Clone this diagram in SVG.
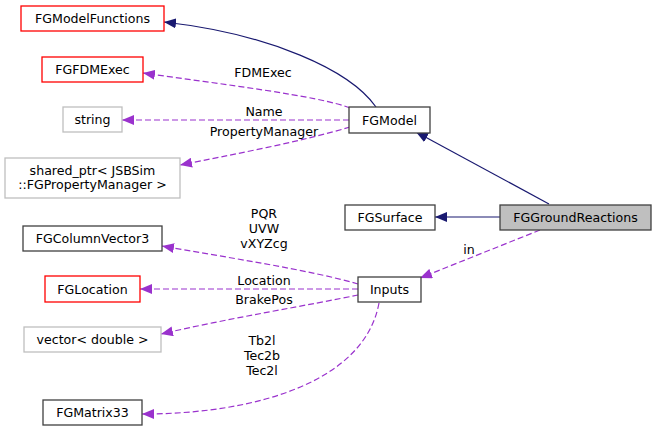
<svg xmlns="http://www.w3.org/2000/svg" width="656" height="431" viewBox="0 0 656 431">
<defs>
<style>
text{font-family:"DejaVu Sans",sans-serif;font-size:12.6px;fill:#000;text-anchor:middle}
.b{fill:#fff;stroke:#404040;stroke-width:1.3}
.r{fill:#fff;stroke:#ff0000;stroke-width:1.3}
.g{fill:#fff;stroke:#bfbfbf;stroke-width:1.3}
.cur{fill:#bfbfbf;stroke:#404040;stroke-width:1.3}
.inh{fill:none;stroke:#191970;stroke-width:1.2;marker-end:url(#an)}
.use{fill:none;stroke:#9a32cd;stroke-width:1.2;stroke-dasharray:6,3;marker-end:url(#ap)}
</style>
<marker id="an" markerUnits="userSpaceOnUse" markerWidth="12" markerHeight="10" refX="12" refY="5" orient="auto"><path d="M0,0 L12,5 L0,10 z" fill="#191970"/></marker>
<marker id="ap" markerUnits="userSpaceOnUse" markerWidth="12" markerHeight="10" refX="12" refY="5" orient="auto"><path d="M0,0 L12,5 L0,10 z" fill="#9a32cd"/></marker>
</defs>
<g id="connectors">
<path class="inh" d="M376,107 C350,70 270,34 164,22"/>
<path class="use" d="M350,108 C320,96 220,84 143,73"/>
<path class="use" d="M349,120 L122,120"/>
<path class="use" d="M350,127 C300,142 230,155 180,165"/>
<path class="inh" d="M549,204 L416,132"/>
<path class="inh" d="M500,217 L435,217"/>
<path class="use" d="M540,230 L420,278"/>
<path class="use" d="M358,284 C310,270 230,258 162,246"/>
<path class="use" d="M358,289 L140,289"/>
<path class="use" d="M358,295 C310,305 230,318 161,334"/>
<path class="use" d="M379,303 C365,380 260,414 142,414"/>
<text x="263" y="77">FDMExec</text>
<text x="264" y="116">Name</text>
<text x="264" y="136">PropertyManager</text>
<text x="469" y="254">in</text>
<text x="264" y="218">PQR</text>
<text x="264" y="233">UVW</text>
<text x="264" y="248">vXYZcg</text>
<text x="264" y="285">Location</text>
<text x="264" y="304">BrakePos</text>
<text x="262" y="345">Tb2l</text>
<text x="262" y="360">Tec2b</text>
<text x="262" y="375">Tec2l</text>
</g>
<g id="FGModelFunctions"><rect class="r" x="21" y="6" width="143" height="25"/><text x="92.5" y="23">FGModelFunctions</text></g>
<g id="FGFDMExec"><rect class="r" x="42" y="57" width="101" height="25"/><text x="92.5" y="74">FGFDMExec</text></g>
<g id="string"><rect class="g" x="63" y="107" width="59" height="25"/><text x="92.5" y="124">string</text></g>
<g id="shared_ptr"><rect class="g" x="5" y="158" width="175" height="40"/><text x="92.5" y="175">shared_ptr&lt; JSBSim</text><text x="92.5" y="189">::FGPropertyManager &gt;</text></g>
<g id="FGModel"><rect class="b" x="349" y="107" width="81" height="26"/><text x="389.5" y="124.5">FGModel</text></g>
<g id="FGSurface"><rect class="b" x="345" y="205" width="90" height="25"/><text x="390" y="222">FGSurface</text></g>
<g id="FGGroundReactions"><rect class="cur" x="500" y="205" width="151" height="25"/><text x="575.5" y="222">FGGroundReactions</text></g>
<g id="Inputs"><rect class="b" x="358" y="277" width="63" height="25"/><text x="389.5" y="294">Inputs</text></g>
<g id="FGColumnVector3"><rect class="b" x="23" y="226" width="139" height="25"/><text x="92.5" y="243">FGColumnVector3</text></g>
<g id="FGLocation"><rect class="r" x="45" y="276" width="95" height="26"/><text x="92.5" y="293.5">FGLocation</text></g>
<g id="vector_double"><rect class="g" x="24" y="327" width="137" height="25"/><text x="92.5" y="344">vector&lt; double &gt;</text></g>
<g id="FGMatrix33"><rect class="b" x="43" y="400" width="99" height="25"/><text x="92.5" y="417">FGMatrix33</text></g>
</svg>
